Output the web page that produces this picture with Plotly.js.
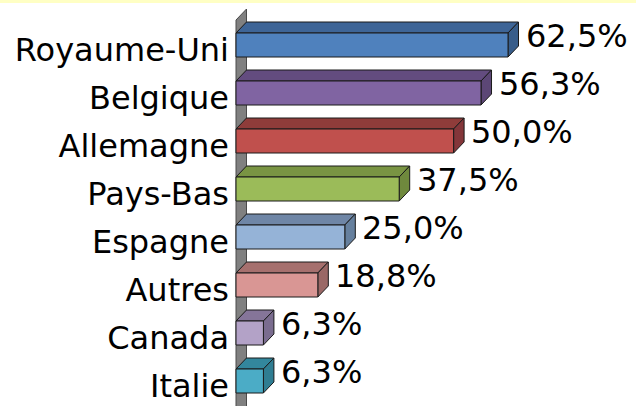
<!DOCTYPE html>
<html>
<head>
<meta charset="utf-8">
<script src="https://cdn.plot.ly/plotly-3.0.1.min.js"></script>
<style>html,body{margin:0;padding:0;background:#fff;}#chart{width:636px;height:406px;}</style>
</head>
<body>
<div id="chart"></div>
<script>
// ---- data ----
const categories = ['Royaume-Uni', 'Belgique', 'Allemagne', 'Pays-Bas', 'Espagne', 'Autres', 'Canada', 'Italie'];
const values = [62.5, 56.3, 50.0, 37.5, 25.0, 18.8, 6.3, 6.3];
const valueLabels = ['62,5%', '56,3%', '50,0%', '37,5%', '25,0%', '18,8%', '6,3%', '6,3%'];
const frontColors = ['#4F81BD', '#8064A2', '#C0504D', '#9BBB59', '#95B3D7', '#D99694', '#B3A2C7', '#4BACC6'];
const topColors   = ['#3E6597', '#634C7F', '#8F3C3A', '#799443', '#6F86A6', '#A6706E', '#857599', '#33879D'];
const sideColors  = ['#385D8A', '#5C4776', '#84363A', '#6F893D', '#66809E', '#9A6866', '#7A6C8F', '#2F7D92'];

// ---- geometry (pixels -> data units) ----
const W = 636, H = 406;
const mL = 230, plotW = W - mL;
const pxPerUnit = 4.352;          // px per percent
const zeroPx = 236;               // pixel of value 0
const rowPx = 48, firstRowPx = 45;
const depthX = 10.5 / pxPerUnit;  // 3D depth, x
const depthY = 11 / rowPx;        // 3D depth, y (index units)
const halfBar = 0.25;

const xStart = -(zeroPx - mL) / pxPerUnit;
const xEnd = xStart + plotW / pxPerUnit;
const yTop = -firstRowPx / rowPx;
const yBottom = (H - firstRowPx) / rowPx;

const idx = categories.map((c, i) => i);

const shapes = [];
// side wall (axis wall)
const wallTop = (20 - firstRowPx) / rowPx;
shapes.push({
  type: 'path', xref: 'x', yref: 'y', layer: 'below',
  path: `M 0,${yBottom + 1} L 0,${wallTop} L ${depthX},${wallTop - depthY} L ${depthX},${yBottom + 1} Z`,
  fillcolor: '#808080', line: {color: '#4a4a4a', width: 1}
});
// top and side faces of bars
values.forEach((v, i) => {
  const yf = i - halfBar, yb = i + halfBar;
  shapes.push({
    type: 'path', xref: 'x', yref: 'y', layer: 'below',
    path: `M 0,${yf} L ${v},${yf} L ${v + depthX},${yf - depthY} L ${depthX},${yf - depthY} Z`,
    fillcolor: topColors[i], line: {color: '#1a1a1a', width: 1}
  });
  shapes.push({
    type: 'path', xref: 'x', yref: 'y', layer: 'below',
    path: `M ${v},${yf} L ${v + depthX},${yf - depthY} L ${v + depthX},${yb - depthY} L ${v},${yb} Z`,
    fillcolor: sideColors[i], line: {color: '#1a1a1a', width: 1}
  });
});
// title band strip at top (full width)
shapes.push({
  type: 'rect', xref: 'paper', yref: 'paper', layer: 'above',
  x0: -mL / plotW - 0.01, x1: 1.01, y0: 1 - 3 / H, y1: 1,
  fillcolor: '#FFFFC4', line: {width: 0}
});

const annotations = values.map((v, i) => ({
  x: v + depthX, y: i - depthY * 0.8, xref: 'x', yref: 'y',
  text: valueLabels[i], showarrow: false, xanchor: 'left', yanchor: 'middle', xshift: 5,
  font: {family: 'DejaVu Sans', size: 32, color: '#000'}
}));

const trace = {
  type: 'bar', orientation: 'h',
  x: values, y: idx, width: 0.5, base: 0,
  marker: {color: frontColors, line: {color: '#1a1a1a', width: 1}},
  hoverinfo: 'skip', showlegend: false
};

const layout = {
  width: W, height: H,
  margin: {l: mL, r: 0, t: 0, b: 0, pad: 0},
  paper_bgcolor: '#ffffff', plot_bgcolor: 'rgba(0,0,0,0)',
  showlegend: false,
  xaxis: {range: [xStart, xEnd], visible: false, fixedrange: true},
  yaxis: {
    range: [yBottom, yTop], tickmode: 'array', tickvals: idx, ticktext: categories,
    showgrid: false, zeroline: false, showline: false, ticks: '',
    ticklabelstandoff: 0, ticklabelshift: -5,
    tickfont: {family: 'DejaVu Sans', size: 32, color: '#000'}
  },
  shapes: shapes, annotations: annotations
};

Plotly.newPlot('chart', [trace], layout, {staticPlot: true, displayModeBar: false});
</script>
</body>
</html>
